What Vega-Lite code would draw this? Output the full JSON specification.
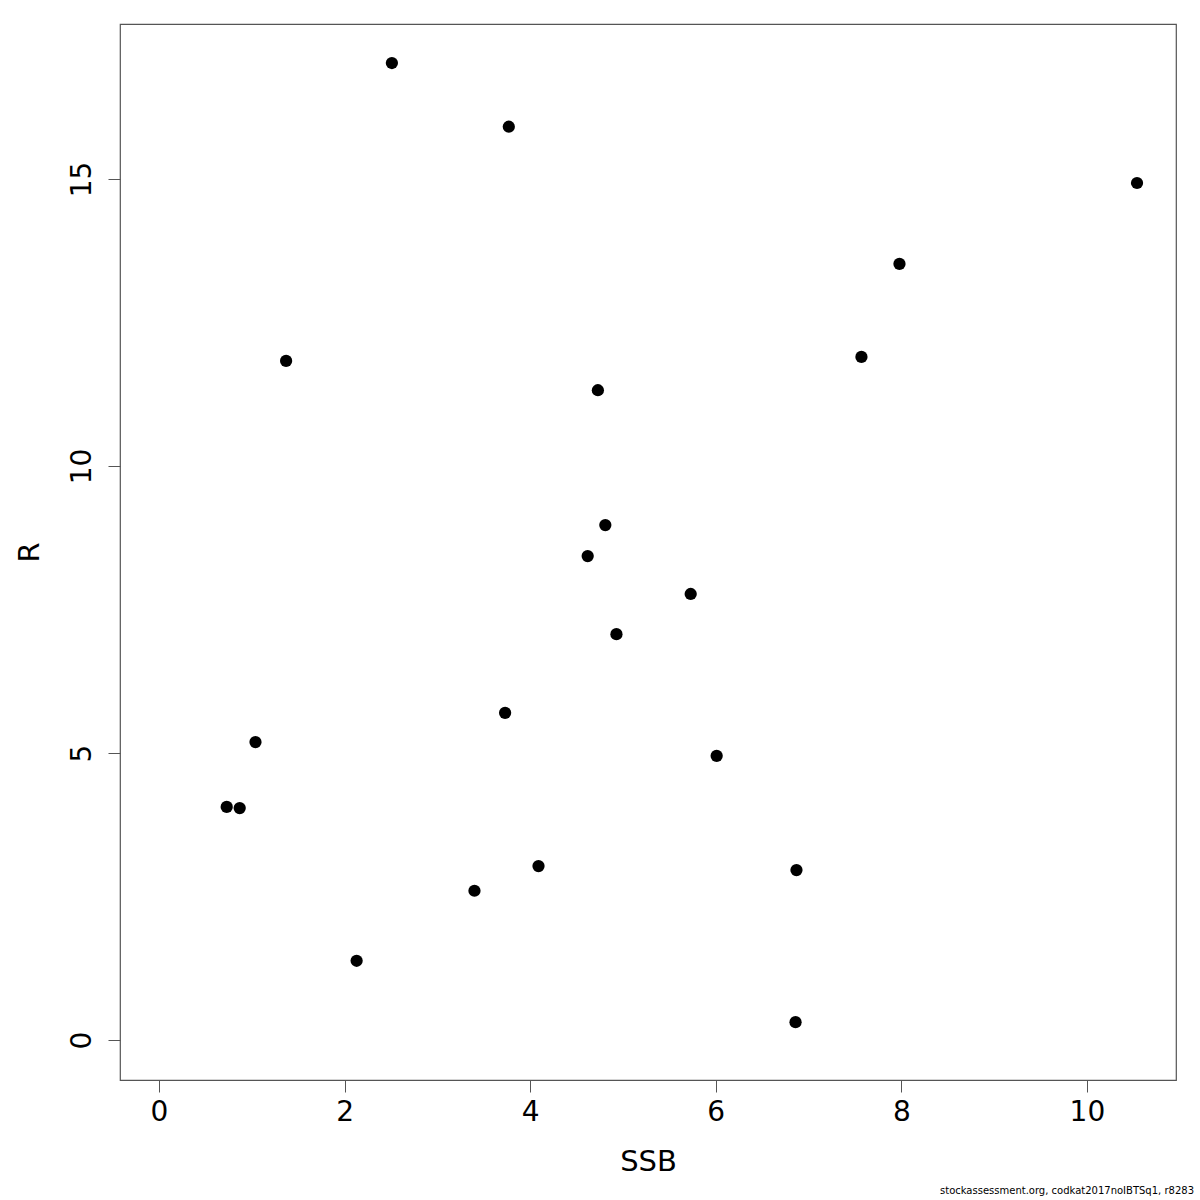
{
  "$schema": "https://vega.github.io/schema/vega-lite/v6.json",
  "width": 1056,
  "height": 1056,
  "autosize": {"type": "none"},
  "padding": {"left": 120, "top": 24, "right": 24, "bottom": 120},
  "background": "white",
  "config": {
    "view": {"stroke": "#555555", "strokeWidth": 1.2},
    "font": "DejaVu Sans"
  },
  "title": {
    "text": "stockassessment.org, codkat2017noIBTSq1, r8283",
    "orient": "bottom",
    "anchor": "end",
    "fontSize": 10,
    "fontWeight": "normal",
    "font": "DejaVu Sans",
    "color": "black",
    "offset": 10,
    "dx": 18
  },
  "data": {
    "values": [
      {"SSB": 2.51, "R": 17.02},
      {"SSB": 3.77, "R": 15.91},
      {"SSB": 10.54, "R": 14.93},
      {"SSB": 7.98, "R": 13.52},
      {"SSB": 1.37, "R": 11.83},
      {"SSB": 7.57, "R": 11.90},
      {"SSB": 4.73, "R": 11.32},
      {"SSB": 4.81, "R": 8.97},
      {"SSB": 4.62, "R": 8.43},
      {"SSB": 5.73, "R": 7.77},
      {"SSB": 4.93, "R": 7.07},
      {"SSB": 3.73, "R": 5.70},
      {"SSB": 1.04, "R": 5.19},
      {"SSB": 6.01, "R": 4.95},
      {"SSB": 0.73, "R": 4.06},
      {"SSB": 0.87, "R": 4.04},
      {"SSB": 4.09, "R": 3.03},
      {"SSB": 6.87, "R": 2.96},
      {"SSB": 3.40, "R": 2.60},
      {"SSB": 2.13, "R": 1.38},
      {"SSB": 6.86, "R": 0.31}
    ]
  },
  "mark": {"type": "circle", "size": 150, "color": "black", "opacity": 1},
  "encoding": {
    "x": {
      "field": "SSB",
      "type": "quantitative",
      "scale": {"domain": [-0.42, 10.96], "nice": false, "zero": false},
      "axis": {
        "title": "SSB",
        "titleFontSize": 29,
        "titleFontWeight": "normal",
        "titleColor": "black",
        "titlePadding": 21,
        "values": [0, 2, 4, 6, 8, 10],
        "domain": false,
        "grid": false,
        "tickColor": "#555555",
        "tickSize": 12,
        "labelFontSize": 28,
        "labelColor": "black",
        "labelPadding": 6,
        "labelFlush": false
      }
    },
    "y": {
      "field": "R",
      "type": "quantitative",
      "scale": {"domain": [-0.697, 17.70], "nice": false, "zero": false},
      "axis": {
        "title": "R",
        "titleFontSize": 29,
        "titleFontWeight": "normal",
        "titleColor": "black",
        "titlePadding": 24,
        "values": [0, 5, 10, 15],
        "domain": false,
        "grid": false,
        "tickColor": "#555555",
        "tickSize": 12,
        "labelFontSize": 28,
        "labelColor": "black",
        "labelAngle": -90,
        "labelAlign": "center",
        "labelBaseline": "bottom",
        "labelPadding": 12,
        "labelFlush": false
      }
    }
  }
}
